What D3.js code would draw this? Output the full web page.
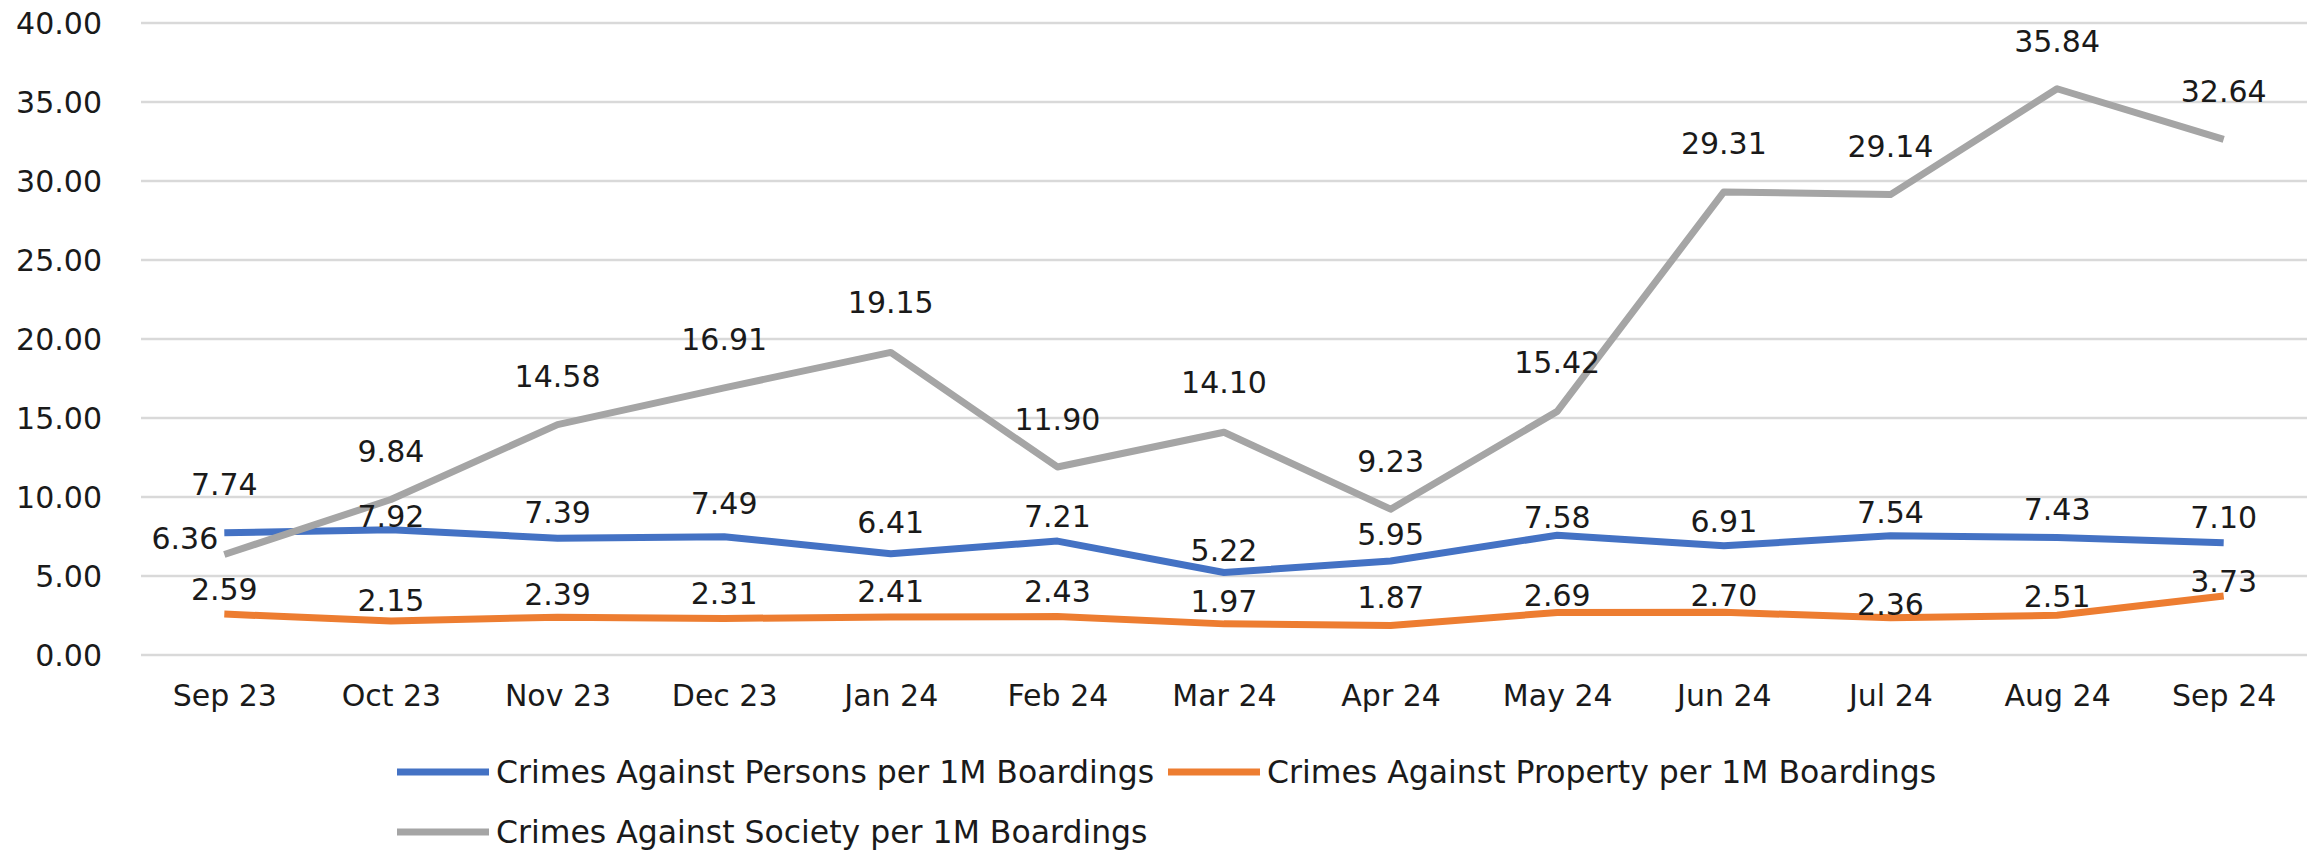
<!DOCTYPE html>
<html>
<head>
<meta charset="utf-8">
<script src="https://cdn.jsdelivr.net/npm/d3@7"></script>
<style>
  html, body { margin: 0; padding: 0; background: #fff; }
  text { font-family: "DejaVu Sans", Verdana, sans-serif; fill: #1a1a1a; }
</style>
</head>
<body>
<script>
const months = ['Sep 23', 'Oct 23', 'Nov 23', 'Dec 23', 'Jan 24', 'Feb 24', 'Mar 24',
    'Apr 24', 'May 24', 'Jun 24', 'Jul 24', 'Aug 24', 'Sep 24'];

const persons = [7.74, 7.92, 7.39, 7.49, 6.41, 7.21, 5.22, 5.95, 7.58, 6.91, 7.54, 7.43, 7.10];
const property = [2.59, 2.15, 2.39, 2.31, 2.41, 2.43, 1.97, 1.87, 2.69, 2.70, 2.36, 2.51, 3.73];
const society = [6.36, 9.84, 14.58, 16.91, 19.15, 11.90, 14.10, 9.23, 15.42, 29.31, 29.14, 35.84, 32.64];

const yTicks = [0, 5, 10, 15, 20, 25, 30, 35, 40];

const seriesNames = [
    'Crimes Against Persons per 1M Boardings',
    'Crimes Against Property per 1M Boardings',
    'Crimes Against Society per 1M Boardings'
];

// label nudges (px above the point), they were hand placed in the original
const personsLabelDy = [-38, -3, -15, -23, -21, -14, -12, -16, -7, -14, -13, -18, -15];
const propertyLabelDy = [-14, -10, -12, -15, -15, -15, -12, -17, -6, -6, -3, -8, -4];
const societyLabelDy = [-6, -38, -38, -38, -39, -37, -39, -37, -38, -38, -38, -37, -37];

const width = 2310;
const height = 851;
const margin = { top: 23, right: 3, bottom: 196, left: 141 };

const svg = d3.select('body')
    .append('svg')
    .attr('width', width)
    .attr('height', height);

const x = d3.scalePoint()
    .domain(months)
    .range([margin.left, width - margin.right])
    .padding(0.5);

const y = d3.scaleLinear()
    .domain([0, 40])
    .range([height - margin.bottom, margin.top]);

// gridlines
svg.append('g')
    .selectAll('line')
    .data(yTicks)
    .join('line')
    .attr('x1', margin.left)
    .attr('x2', width - margin.right)
    .attr('y1', d => y(d))
    .attr('y2', d => y(d))
    .attr('stroke', '#d9d9d9')
    .attr('stroke-width', 2.5);

const yAxis = svg.append('g')
    .attr('transform', `translate(${margin.left - 39},0)`)
    .call(d3.axisLeft(y).tickValues(yTicks).tickFormat(d3.format('.2f')).tickSize(0).tickPadding(0));
yAxis.select('.domain').remove();
yAxis.selectAll('text')
    .attr('font-size', 30)
    .attr('font-family', '"DejaVu Sans", Verdana, sans-serif')
    .attr('fill', '#1a1a1a')
    .attr('dy', '0.36em');

const xAxis = svg.append('g')
    .attr('transform', `translate(0,${y(0) + 28})`)
    .call(d3.axisBottom(x).tickSize(0).tickPadding(0));
xAxis.select('.domain').remove();
xAxis.selectAll('text')
    .attr('font-size', 30)
    .attr('font-family', '"DejaVu Sans", Verdana, sans-serif')
    .attr('fill', '#1a1a1a')
    .attr('dy', '0.75em');

const series = [
    { name: seriesNames[0], values: persons, color: '#4472c4', dy: personsLabelDy },
    { name: seriesNames[1], values: property, color: '#ed7d31', dy: propertyLabelDy },
    { name: seriesNames[2], values: society, color: '#a5a5a5', dy: societyLabelDy }
];

const line = d3.line()
    .x((d, i) => x(months[i]))
    .y(d => y(d));

svg.append('g')
    .selectAll('path')
    .data(series)
    .join('path')
    .attr('d', d => line(d.values))
    .attr('fill', 'none')
    .attr('stroke', d => d.color)
    .attr('stroke-width', 7)
    .attr('stroke-linejoin', 'round');

// data labels
series.forEach((s, si) => {
    svg.append('g')
        .selectAll('text')
        .data(s.values)
        .join('text')
        .attr('x', (d, i) => x(months[i]) + (si === 2 && i === 0 ? -6 : 0))
        .attr('y', (d, i) => y(d) + s.dy[i])
        .attr('text-anchor', (d, i) => (si === 2 && i === 0 ? 'end' : 'middle'))
        .attr('font-size', 30)
        .text(d => d.toFixed(2));
});

// legend
const legendItems = [
    { x: 397, y: 772 },
    { x: 1168, y: 772 },
    { x: 397, y: 832 }
];

const legend = svg.append('g')
    .selectAll('g')
    .data(series)
    .join('g')
    .attr('transform', (d, i) => `translate(${legendItems[i].x},${legendItems[i].y})`);

legend.append('line')
    .attr('x1', 0)
    .attr('x2', 92)
    .attr('stroke', d => d.color)
    .attr('stroke-width', 7);

legend.append('text')
    .attr('x', 99)
    .attr('dy', '0.36em')
    .attr('font-size', 31.5)
    .text(d => d.name);
</script>
</body>
</html>
